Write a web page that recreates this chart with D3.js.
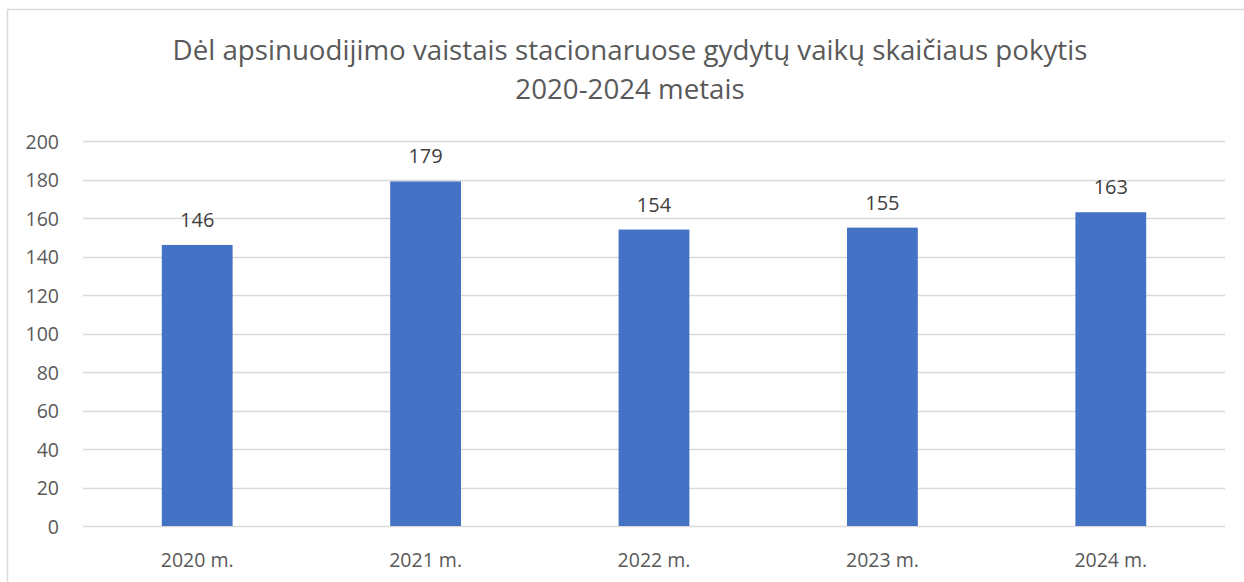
<!DOCTYPE html>
<html><head><meta charset="utf-8">
<script src="https://cdn.jsdelivr.net/npm/d3@7"></script>
<style>body{margin:0;background:#fff;} svg{display:block;}</style>
</head><body>
<svg id="c" width="1244" height="582"></svg>
<script>
const categories = ["2020 m.", "2021 m.", "2022 m.", "2023 m.", "2024 m."];
const values = [146, 179, 154, 155, 163];
const yTicks = [0, 20, 40, 60, 80, 100, 120, 140, 160, 180, 200];
const titleLines = ["Dėl apsinuodijimo vaistais stacionaruose gydytų vaikų skaičiaus pokytis", "2020-2024 metais"];

const svg = d3.select("#c");
const font = "'Open Sans', sans-serif";
// chart border
svg.append("rect").attr("x", 7.5).attr("y", 9.5).attr("width", 1250).attr("height", 600)
  .attr("fill", "none").attr("stroke", "#d9d9d9").attr("stroke-width", 1.5);

const m = {left: 83, right: 1225, top: 141, bottom: 526};
const x = d3.scaleBand().domain(categories).range([m.left, m.right]).paddingInner(0.69).paddingOuter(0.345);
const y = d3.scaleLinear().domain([0, 200]).range([m.bottom, m.top]);

// gridlines
svg.append("g").selectAll("line").data(yTicks).join("line")
  .attr("x1", m.left).attr("x2", m.right)
  .attr("y1", d => Math.round(y(d)) + 0.5).attr("y2", d => Math.round(y(d)) + 0.5)
  .attr("stroke", "#d9d9d9").attr("stroke-width", 1.3);

// y axis labels
const yAxis = d3.axisLeft(y).tickValues(yTicks).tickSize(0).tickPadding(0);
const ya = svg.append("g").attr("transform", `translate(59,0)`).call(yAxis);
ya.select(".domain").remove();
ya.selectAll("text").attr("font-family", font).attr("font-size", 19.5).attr("fill", "#595959").attr("dy", "0.36em");

// x axis labels
const xAxis = d3.axisBottom(x).tickSize(0).tickPadding(0);
const xa = svg.append("g").attr("transform", `translate(0,567)`).call(xAxis);
xa.select(".domain").remove();
xa.selectAll("text").attr("font-family", font).attr("font-size", 19.5).attr("fill", "#595959").attr("dy", "0");

// bars
svg.append("g").selectAll("rect").data(values).join("rect")
  .attr("x", (d, i) => x(categories[i])).attr("width", x.bandwidth())
  .attr("y", d => y(d)).attr("height", d => y(0) - y(d))
  .attr("fill", "#4472c4");

// data labels
svg.append("g").selectAll("text").data(values).join("text")
  .attr("x", (d, i) => x(categories[i]) + x.bandwidth() / 2)
  .attr("y", d => y(d) - 18)
  .attr("text-anchor", "middle").attr("font-family", font).attr("font-size", 20)
  .attr("fill", "#404040").text(d => d);

// title
svg.append("g").selectAll("text").data(titleLines).join("text")
  .attr("x", 630).attr("y", (d, i) => 59.5 + i * 39)
  .attr("text-anchor", "middle").attr("font-family", font).attr("font-size", 27.7)
  .attr("fill", "#595959").text(d => d);
</script>
</body></html>
